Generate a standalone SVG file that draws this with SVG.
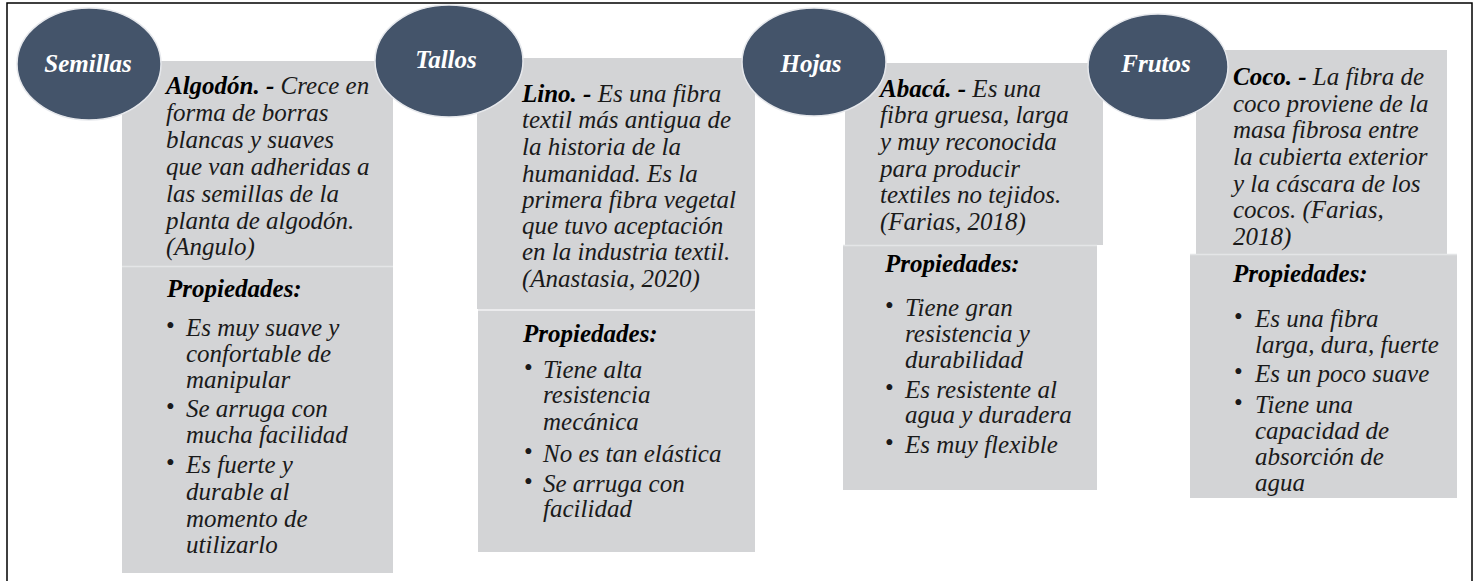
<svg xmlns="http://www.w3.org/2000/svg" width="1479" height="581" viewBox="0 0 1479 581">
<style>
.bg{fill:#ffffff}
.frame{fill:none;stroke:#000000;stroke-width:1.5}
.box{fill:#D3D4D6}
.sep{stroke:#E4E5E7;stroke-width:1.5}
.oval{fill:#44546A;stroke:#E6E8EC;stroke-width:1.5}
.lbl{font-family:"Liberation Serif","Times New Roman",serif;font-size:25px;font-style:italic;font-weight:bold;fill:#ffffff;text-anchor:middle}
.t{font-family:"Liberation Serif","Times New Roman",serif;font-size:25px;font-style:italic;fill:#1a1a1a}
.b{font-weight:bold;fill:#000000}
.bul{font-family:"Liberation Serif","Times New Roman",serif;font-size:25px;fill:#1a1a1a}
</style>
<rect class="bg" x="0" y="0" width="1479" height="581"/>
<path class="frame" d="M7,581 V3 H1472 V581"/>
<g id="connectors"/>

<g id="semillas">
<rect class="box" x="122" y="61" width="271" height="205"/>
<rect class="box" x="122" y="267" width="271" height="306"/>
<line class="sep" x1="122" y1="266.5" x2="393" y2="266.5"/>
<ellipse class="oval" cx="89" cy="64" rx="72" ry="56"/>
<text class="lbl" x="88" y="72">Semillas</text>
<text class="t">
<tspan x="166" y="94"><tspan class="b">Algodón. -</tspan> Crece en</tspan>
<tspan x="166" y="121">forma de borras</tspan>
<tspan x="166" y="148">blancas y suaves</tspan>
<tspan x="166" y="175">que van adheridas a</tspan>
<tspan x="166" y="202">las semillas de la</tspan>
<tspan x="166" y="229">planta de algodón.</tspan>
<tspan x="166" y="255">(Angulo)</tspan>
</text>
<text class="t b" x="167" y="297">Propiedades:</text>
<text class="bul"><tspan x="166" y="334">•</tspan><tspan x="166" y="415">•</tspan><tspan x="166" y="471">•</tspan></text>
<text class="t">
<tspan x="186" y="336">Es muy suave y</tspan>
<tspan x="186" y="362">confortable de</tspan>
<tspan x="186" y="388">manipular</tspan>
<tspan x="186" y="417">Se arruga con</tspan>
<tspan x="186" y="443">mucha facilidad</tspan>
<tspan x="186" y="473">Es fuerte y</tspan>
<tspan x="186" y="500">durable al</tspan>
<tspan x="186" y="527">momento de</tspan>
<tspan x="186" y="553">utilizarlo</tspan>
</text>
</g>

<g id="tallos">
<rect class="box" x="477" y="58" width="278" height="251"/>
<rect class="box" x="478" y="311" width="277" height="241"/>
<line class="sep" x1="478" y1="310" x2="755" y2="310"/>
<ellipse class="oval" cx="449" cy="61" rx="74" ry="56"/>
<text class="lbl" x="446" y="68">Tallos</text>
<text class="t">
<tspan x="522" y="102"><tspan class="b">Lino. -</tspan> Es una fibra</tspan>
<tspan x="522" y="128">textil más antigua de</tspan>
<tspan x="522" y="155">la historia de la</tspan>
<tspan x="522" y="182">humanidad. Es la</tspan>
<tspan x="522" y="208">primera fibra vegetal</tspan>
<tspan x="522" y="234">que tuvo aceptación</tspan>
<tspan x="522" y="260">en la industria textil.</tspan>
<tspan x="522" y="287">(Anastasia, 2020)</tspan>
</text>
<text class="t b" x="523" y="342">Propiedades:</text>
<text class="bul"><tspan x="524" y="376">•</tspan><tspan x="524" y="460">•</tspan><tspan x="524" y="490">•</tspan></text>
<text class="t">
<tspan x="543" y="378">Tiene alta</tspan>
<tspan x="543" y="403">resistencia</tspan>
<tspan x="543" y="430">mecánica</tspan>
<tspan x="543" y="462">No es tan elástica</tspan>
<tspan x="543" y="492">Se arruga con</tspan>
<tspan x="543" y="517">facilidad</tspan>
</text>
</g>

<g id="hojas">
<rect class="box" x="845" y="63" width="258" height="182"/>
<rect class="box" x="843" y="246" width="254" height="244"/>
<line class="sep" x1="843" y1="245.5" x2="1097" y2="245.5"/>
<ellipse class="oval" cx="814" cy="62" rx="72" ry="54"/>
<text class="lbl" x="811" y="72">Hojas</text>
<text class="t">
<tspan x="880" y="97"><tspan class="b">Abacá. -</tspan> Es una</tspan>
<tspan x="880" y="123">fibra gruesa, larga</tspan>
<tspan x="880" y="150">y muy reconocida</tspan>
<tspan x="880" y="177">para producir</tspan>
<tspan x="880" y="203">textiles no tejidos.</tspan>
<tspan x="880" y="230">(Farias, 2018)</tspan>
</text>
<text class="t b" x="885" y="272">Propiedades:</text>
<text class="bul"><tspan x="885" y="314">•</tspan><tspan x="885" y="396">•</tspan><tspan x="885" y="451">•</tspan></text>
<text class="t">
<tspan x="905" y="316">Tiene gran</tspan>
<tspan x="905" y="342">resistencia y</tspan>
<tspan x="905" y="368">durabilidad</tspan>
<tspan x="905" y="398">Es resistente al</tspan>
<tspan x="905" y="423">agua y duradera</tspan>
<tspan x="905" y="453">Es muy flexible</tspan>
</text>
</g>

<g id="frutos">
<rect class="box" x="1196" y="50" width="251" height="204"/>
<rect class="box" x="1190" y="255" width="267" height="243"/>
<line class="sep" x1="1190" y1="254.5" x2="1457" y2="254.5"/>
<ellipse class="oval" cx="1158" cy="67" rx="70" ry="53"/>
<text class="lbl" x="1156" y="72">Frutos</text>
<text class="t">
<tspan x="1233" y="85"><tspan class="b">Coco. -</tspan> La fibra de</tspan>
<tspan x="1233" y="112">coco proviene de la</tspan>
<tspan x="1233" y="138">masa fibrosa entre</tspan>
<tspan x="1233" y="165">la cubierta exterior</tspan>
<tspan x="1233" y="192">y la cáscara de los</tspan>
<tspan x="1233" y="218">cocos. (Farias,</tspan>
<tspan x="1233" y="245">2018)</tspan>
</text>
<text class="t b" x="1233" y="282">Propiedades:</text>
<text class="bul"><tspan x="1234" y="325">•</tspan><tspan x="1234" y="380">•</tspan><tspan x="1234" y="411">•</tspan></text>
<text class="t">
<tspan x="1255" y="327">Es una fibra</tspan>
<tspan x="1255" y="353">larga, dura, fuerte</tspan>
<tspan x="1255" y="382">Es un poco suave</tspan>
<tspan x="1255" y="413">Tiene una</tspan>
<tspan x="1255" y="439">capacidad de</tspan>
<tspan x="1255" y="465">absorción de</tspan>
<tspan x="1255" y="491">agua</tspan>
</text>
</g>
</svg>
